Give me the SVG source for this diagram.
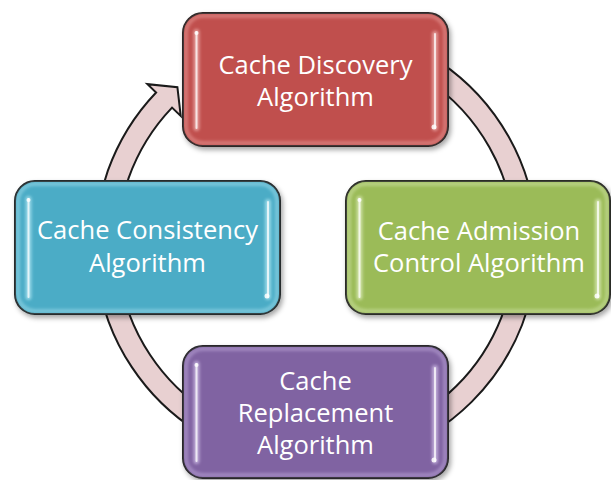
<svg xmlns="http://www.w3.org/2000/svg" width="611" height="480" viewBox="0 0 611 480">
  <defs>
    <style>
      .box { stroke: #1a1a1a; stroke-width: 2; }
      .rim { fill: none; stroke-width: 4; opacity: 0.55; }
      .hl { fill: none; stroke: #ffffff; stroke-width: 2; stroke-linecap: round; opacity: 0.75; }
      .hlglow { fill: none; stroke-width: 6; stroke-linecap: round; opacity: 0.7; }
      .dot { fill: #ffffff; opacity: 0.85; }
      .label { font-family: "Open Sans", "Noto Sans", "Liberation Sans", sans-serif; font-size: 25.5px; fill: #ffffff; text-anchor: middle; }
      .ring { fill: #E8D0D1; stroke: #1a1a1a; stroke-width: 2; stroke-linejoin: miter; }
    </style>
    <filter id="shadow" x="-10%" y="-10%" width="125%" height="130%">
      <feDropShadow dx="2" dy="3" stdDeviation="2.5" flood-color="#000000" flood-opacity="0.35"/>
    </filter>
    <!-- user-space regions so the blur also works on zero-width vertical lines -->
    <filter id="soft" filterUnits="userSpaceOnUse" x="0" y="0" width="611" height="480">
      <feGaussianBlur stdDeviation="1.5"/>
    </filter>
    <filter id="glint" filterUnits="userSpaceOnUse" x="0" y="0" width="611" height="480">
      <feGaussianBlur stdDeviation="0.6"/>
    </filter>
  </defs>

  <!-- circular arrow running clockwise behind the four boxes -->
  <g id="connectors">
    <path class="ring" d="M 354.38 27.36 A 221 221 0 1 1 156.11 92.44 L 147.42 84.16 L 177.4 87.2 L 180.71 115.91 L 172.02 107.63 A 199 199 0 1 0 350.56 49.02 Z"/>
  </g>

  <!-- top: discovery -->
  <g id="discovery">
    <rect class="box" x="183" y="13" width="265" height="133" rx="20" fill="#C0504D" filter="url(#shadow)"/>
    <rect class="rim" x="186" y="16" width="259" height="127" rx="17" stroke="#E89A97" filter="url(#soft)"/>
    <line class="hlglow" x1="196.5" y1="32" x2="196.5" y2="128" stroke="#F2B8B6" filter="url(#soft)"/>
    <line class="hl" x1="196.5" y1="32" x2="196.5" y2="128" filter="url(#glint)"/>
    <circle class="dot" cx="196.5" cy="33" r="2" filter="url(#glint)"/>
    <line class="hlglow" x1="435" y1="34" x2="435" y2="128" stroke="#F2B8B6" filter="url(#soft)"/>
    <line class="hl" x1="435" y1="34" x2="435" y2="128" filter="url(#glint)"/>
    <circle class="dot" cx="434" cy="127" r="2.5" filter="url(#glint)"/>
    <text class="label" x="315.5" y="74">Cache Discovery</text>
    <text class="label" x="315.5" y="106">Algorithm</text>
  </g>

  <!-- left: consistency -->
  <g id="consistency">
    <rect class="box" x="15" y="181" width="265" height="133" rx="20" fill="#4BACC6" filter="url(#shadow)"/>
    <rect class="rim" x="18" y="184" width="259" height="127" rx="17" stroke="#9EDCEB" filter="url(#soft)"/>
    <line class="hlglow" x1="28.5" y1="199" x2="28.5" y2="297" stroke="#B5EAF5" filter="url(#soft)"/>
    <line class="hl" x1="28.5" y1="199" x2="28.5" y2="297" filter="url(#glint)"/>
    <circle class="dot" cx="28.5" cy="200" r="2" filter="url(#glint)"/>
    <line class="hlglow" x1="268" y1="202" x2="268" y2="297" stroke="#B5EAF5" filter="url(#soft)"/>
    <line class="hl" x1="268" y1="202" x2="268" y2="297" filter="url(#glint)"/>
    <circle class="dot" cx="267" cy="296" r="2.5" filter="url(#glint)"/>
    <text class="label" x="147.5" y="239">Cache Consistency</text>
    <text class="label" x="147.5" y="272">Algorithm</text>
  </g>

  <!-- right: admission control -->
  <g id="admission">
    <rect class="box" x="346" y="181" width="264" height="133" rx="20" fill="#9BBB59" filter="url(#shadow)"/>
    <rect class="rim" x="349" y="184" width="258" height="127" rx="17" stroke="#CFE3A4" filter="url(#soft)"/>
    <line class="hlglow" x1="359.5" y1="199" x2="359.5" y2="297" stroke="#E2F0C2" filter="url(#soft)"/>
    <line class="hl" x1="359.5" y1="199" x2="359.5" y2="297" filter="url(#glint)"/>
    <circle class="dot" cx="359.5" cy="200" r="2" filter="url(#glint)"/>
    <line class="hlglow" x1="598" y1="202" x2="598" y2="297" stroke="#E2F0C2" filter="url(#soft)"/>
    <line class="hl" x1="598" y1="202" x2="598" y2="297" filter="url(#glint)"/>
    <circle class="dot" cx="597" cy="296" r="2.5" filter="url(#glint)"/>
    <text class="label" x="479" y="240">Cache Admission</text>
    <text class="label" x="479" y="272">Control Algorithm</text>
  </g>

  <!-- bottom: replacement -->
  <g id="replacement">
    <rect class="box" x="183" y="346" width="265" height="132" rx="20" fill="#8064A2" filter="url(#shadow)"/>
    <rect class="rim" x="186" y="349" width="259" height="126" rx="17" stroke="#BCA6D8" filter="url(#soft)"/>
    <line class="hlglow" x1="196.5" y1="364" x2="196.5" y2="461" stroke="#D6C6EC" filter="url(#soft)"/>
    <line class="hl" x1="196.5" y1="364" x2="196.5" y2="461" filter="url(#glint)"/>
    <circle class="dot" cx="196.5" cy="365" r="2" filter="url(#glint)"/>
    <line class="hlglow" x1="435" y1="368" x2="435" y2="461" stroke="#D6C6EC" filter="url(#soft)"/>
    <line class="hl" x1="435" y1="368" x2="435" y2="461" filter="url(#glint)"/>
    <circle class="dot" cx="434" cy="460" r="2.5" filter="url(#glint)"/>
    <text class="label" x="315.5" y="390">Cache</text>
    <text class="label" x="315.5" y="422">Replacement</text>
    <text class="label" x="315.5" y="453.5">Algorithm</text>
  </g>
</svg>
